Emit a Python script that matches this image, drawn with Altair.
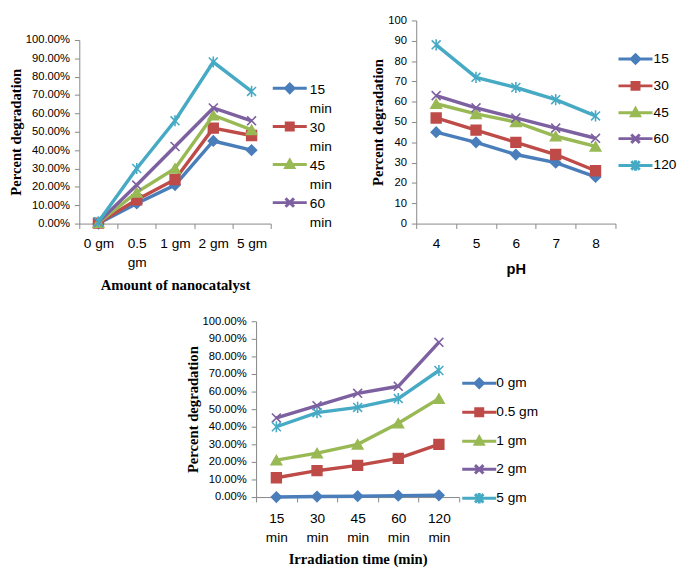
import altair as alt
import pandas as pd

SANS = "Liberation Sans"
SERIF = "Liberation Serif"
COLORS = ["#4A7EBB", "#BE4B48", "#98B954", "#7D60A0", "#46AAC5"]
X_PATH = "M-0.8,-0.8L0.8,0.8M-0.8,0.8L0.8,-0.8"
AST_PATH = "M-0.8,-0.8L0.8,0.8M-0.8,0.8L0.8,-0.8M0,-1L0,1"
SHAPES = ["diamond", "square", "triangle-up", X_PATH, AST_PATH]
SIZES = [105, 100, 115, 130, 130]


def legend_paths(dy):
    def p(x, y):
        return "%g,%g" % (x, round(y + dy, 3))
    line = "M" + p(-1.45, 0) + "L" + p(1.45, 0)
    return [
        line + "M" + p(0, -0.36) + "L" + p(0.36, 0) + "L" + p(0, 0.36) + "L" + p(-0.36, 0) + "Z",
        line + "M" + p(-0.3, -0.3) + "L" + p(0.3, -0.3) + "L" + p(0.3, 0.3) + "L" + p(-0.3, 0.3) + "Z",
        line + "M" + p(0, -0.36) + "L" + p(0.34, 0.26) + "L" + p(-0.34, 0.26) + "Z",
        line + "M" + p(-0.36, -0.36) + "L" + p(0.36, 0.36) + "M" + p(-0.36, 0.36) + "L" + p(0.36, -0.36),
        line + "M" + p(-0.36, -0.36) + "L" + p(0.36, 0.36) + "M" + p(-0.36, 0.36) + "L" + p(0.36, -0.36)
        + "M" + p(0, -0.45) + "L" + p(0, 0.45),
    ]


# ---- Chart 1: amount of nanocatalyst ----
amounts = ["0 gm", "0.5 gm", "1 gm", "2 gm", "5 gm"]
series_a = ["15 min", "30 min", "45 min", "60 min", "120 min"]
a_15 = [0.0, 0.11, 0.21, 0.45, 0.40]
a_30 = [0.003, 0.13, 0.24, 0.52, 0.48]
a_45 = [0.005, 0.17, 0.30, 0.59, 0.51]
a_60 = [0.008, 0.21, 0.42, 0.63, 0.56]
a_120 = [0.01, 0.30, 0.56, 0.88, 0.72]

# ---- Chart 2: pH ----
ph = ["4", "5", "6", "7", "8"]
series_b = ["15", "30", "45", "60", "120"]
b_15 = [45, 40, 34, 30, 23]
b_30 = [52, 46, 40, 34, 26]
b_45 = [59, 54, 50, 43, 38]
b_60 = [63, 57, 52, 47, 42]
b_120 = [88, 72, 67, 61, 53]

# ---- Chart 3: irradiation time ----
times = ["15 min", "30 min", "45 min", "60 min", "120 min"]
series_c = ["0 gm", "0.5 gm", "1 gm", "2 gm", "5 gm"]
c_0 = [0.0, 0.003, 0.005, 0.008, 0.01]
c_05 = [0.11, 0.15, 0.18, 0.22, 0.30]
c_1 = [0.21, 0.25, 0.30, 0.42, 0.56]
c_2 = [0.45, 0.52, 0.59, 0.63, 0.88]
c_5 = [0.40, 0.48, 0.51, 0.56, 0.72]


def long_df(cats, names, rows):
    recs = []
    for name, vals in zip(names, rows):
        for c, v in zip(cats, vals):
            recs.append({"cat": c, "series": name, "val": v})
    return pd.DataFrame(recs)


def panel(df, cats, names, width, height, yrange, yfmt, ydom, yvals, xtitle, xtitle_font,
          x_label_expr, legend_values, legend_label_expr, legend_baseline,
          row_pad, leg_x, leg_y, label_off, x_label_pad, x_title_pad, y_label_pad, sym_dy):
    kw = dict(
        title=None,
        orient="none",
        legendX=leg_x,
        legendY=leg_y,
        labelFont=SANS,
        labelFontSize=14,
        labelColor="#000000",
        labelExpr=legend_label_expr,
        labelBaseline=legend_baseline,
        labelOffset=label_off,
        symbolSize=576,
        symbolStrokeWidth=3,
        symbolOpacity=1,
        rowPadding=row_pad,
        padding=0,
    )
    if legend_values is not None:
        kw["values"] = legend_values
    leg = alt.Legend(**kw)
    xenc = alt.X(
        "cat:O",
        sort=cats,
        title=xtitle,
        axis=alt.Axis(
            labelAngle=0,
            labelFont=SANS,
            labelFontSize=14,
            labelColor="#000000",
            labelExpr=x_label_expr,
            labelLineHeight=20,
            labelPadding=x_label_pad,
            tickBand="extent",
            tickSize=5,
            tickColor="#868686",
            domainColor="#868686",
            titleFont=xtitle_font,
            titleFontSize=15,
            titleFontWeight="bold",
            titleColor="#000000",
            titlePadding=x_title_pad,
        ),
    )
    yscale_kw = dict(domain=ydom, nice=False, zero=True)
    if yrange is not None:
        yscale_kw["range"] = yrange
    yenc = alt.Y(
        "val:Q",
        scale=alt.Scale(**yscale_kw),
        title="Percent degradation",
        axis=alt.Axis(
            format=yfmt,
            values=yvals,
            grid=False,
            labelFont=SANS,
            labelFontSize=11.5,
            labelColor="#000000",
            labelPadding=y_label_pad,
            tickSize=5,
            tickColor="#868686",
            domainColor="#868686",
            titleFont=SERIF,
            titleFontSize=15,
            titleFontWeight="bold",
            titleColor="#000000",
            titlePadding=2,
        ),
    )
    cscale = alt.Scale(domain=names, range=COLORS)
    # legend-only layer (no rows survive the filter): provides the Excel-like legend keys
    legend_layer = alt.Chart(df).transform_filter("datum.val < -1").mark_point(
        filled=True, opacity=1
    ).encode(
        x=xenc, y=yenc,
        color=alt.Color("series:N", scale=cscale, legend=leg),
        stroke=alt.Stroke("series:N", scale=cscale, legend=leg),
        shape=alt.Shape("series:N", scale=alt.Scale(domain=names, range=legend_paths(sym_dy)),
                        legend=leg),
    )
    layers = [legend_layer]
    for i, name in enumerate(names):
        sub = alt.Chart(df).transform_filter(alt.datum.series == name)
        layers.append(sub.mark_line(strokeWidth=3.5, color=COLORS[i]).encode(x=xenc, y=yenc))
        layers.append(
            sub.mark_point(
                filled=True, size=SIZES[i], shape=SHAPES[i], color=COLORS[i],
                stroke=COLORS[i], strokeWidth=1.6, opacity=1,
            ).encode(x=xenc, y=yenc)
        )
    return alt.layer(*layers).properties(width=width, height=height)


df_a = long_df(amounts, series_a, [a_15, a_30, a_45, a_60, a_120])
df_b = long_df(ph, series_b, [b_15, b_30, b_45, b_60, b_120])
df_c = long_df(times, series_c, [c_0, c_05, c_1, c_2, c_5])

pct_vals = [i / 10 for i in range(11)]

chart_a = panel(
    df_a, amounts, series_a, 196, 208, [208, 20], ".2%", [0, 1], pct_vals,
    "Amount of nanocatalyst", SERIF,
    "datum.label == '0.5 gm' ? ['0.5', 'gm'] : datum.label",
    series_a[:4], "split(datum.label, ' ')", "alphabetic", 0,
    202, 62, 7, 8, 8, 5, -0.5,
)
chart_b = panel(
    df_b, ph, series_b, 204, 208, None, "d", [0, 100], list(range(0, 101, 10)),
    "pH", SANS, "datum.label", None, "datum.label", "middle", 3.5,
    211, 26, 5, 8, 12, 5, 0,
)
chart_c = panel(
    df_c, times, series_c, 208, 180, None, ".2%", [0, 1], pct_vals,
    "Irradiation time (min)", SERIF, "split(datum.label, ' ')",
    None, "datum.label", "middle", 5.7,
    215, 50, 4, 10, 7, 5, 0,
)

spacer = alt.Chart(pd.DataFrame({"s": [""]})).mark_text(opacity=0).encode(
    text="s:N").properties(width=86, height=10)

ind = dict(color="independent", stroke="independent", shape="independent")
top = alt.hconcat(chart_a, chart_b, spacing=39).resolve_scale(**ind).resolve_legend(**ind)
bottom = alt.hconcat(spacer, chart_c, spacing=22).resolve_scale(**ind).resolve_legend(**ind)
chart = alt.vconcat(top, bottom, spacing=24).resolve_scale(**ind).resolve_legend(
    **ind).properties(padding=0).configure(
    style={"guide-label": {"lineHeight": 19}}).configure_view(stroke=None)

chart.save("out.html", embed_options={"renderer": "svg", "actions": False})
